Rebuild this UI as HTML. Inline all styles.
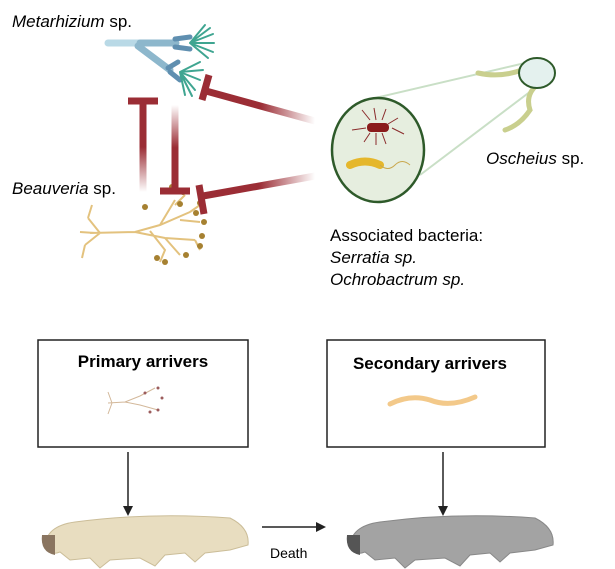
<!DOCTYPE html>
<html><head><meta charset="utf-8"><style>
body{margin:0;background:#fff;}
svg{display:block;font-family:"Liberation Sans",sans-serif;}
</style></head><body>
<svg width="615" height="569" viewBox="0 0 615 569" xmlns="http://www.w3.org/2000/svg">
<defs>
<linearGradient id="g1" x1="1" y1="0" x2="0" y2="0"><stop offset="0" stop-color="#9b2d35" stop-opacity="0"/><stop offset="0.5" stop-color="#9b2d35"/></linearGradient>
<linearGradient id="gv1" gradientUnits="userSpaceOnUse" x1="0" y1="192" x2="0" y2="102"><stop offset="0" stop-color="#9b2d35" stop-opacity="0"/><stop offset="0.5" stop-color="#9b2d35"/></linearGradient>
<linearGradient id="gv2" gradientUnits="userSpaceOnUse" x1="0" y1="105" x2="0" y2="190"><stop offset="0" stop-color="#9b2d35" stop-opacity="0"/><stop offset="0.5" stop-color="#9b2d35"/></linearGradient>
</defs>
<text x="12" y="27" font-size="17"><tspan font-style="italic">Metarhizium</tspan> sp.</text>
<text x="12" y="194" font-size="17"><tspan font-style="italic">Beauveria</tspan> sp.</text>
<text x="486" y="164" font-size="17"><tspan font-style="italic">Oscheius</tspan> sp.</text>
<text x="330" y="241" font-size="17">Associated bacteria:</text>
<text x="330" y="263" font-size="17" font-style="italic">Serratia sp.</text>
<text x="330" y="285" font-size="17" font-style="italic">Ochrobactrum sp.</text>
<g stroke-linecap="round">
<line x1="108" y1="43" x2="140" y2="43" stroke="#b9d9e6" stroke-width="7"/>
<line x1="140" y1="43" x2="176" y2="43" stroke="#8db7cc" stroke-width="7"/>
<line x1="138" y1="46" x2="170" y2="70" stroke="#8db7cc" stroke-width="7"/>
<path d="M175 39 L190 37 M175 47 L190 49 M168 68 L178 62 M170 72 L180 80" stroke="#5f8fb0" stroke-width="5"/>
<g stroke="#3fa591" stroke-width="2">
<path d="M190 43 L210 28 M190 43 L213 34 M190 43 L214 43 M190 43 L213 52 M190 43 L208 58 M190 43 L205 25 M180 72 L200 62 M180 72 L203 70 M180 72 L200 80 M180 72 L195 90 M180 72 L185 95 M180 72 L192 96"/>
</g>
</g>
<g stroke="#e3c27e" stroke-width="2" fill="none">
<path d="M90 233 L135 232 L160 225 L190 212 M135 232 L165 238 L195 240 M160 225 L175 200 M165 238 L180 255 M150 231 L165 250 L160 262 M100 233 L88 218 M100 233 L85 245 M95 233 L80 232 M88 218 L92 205 M85 245 L82 258 M175 205 L185 195 M190 212 L200 205 M180 220 L200 222 M195 240 L200 250"/>
</g>
<g fill="#a68131">
<circle cx="145" cy="207" r="3"/><circle cx="172" cy="187" r="3"/><circle cx="183" cy="192" r="3"/><circle cx="180" cy="204" r="3"/><circle cx="196" cy="213" r="3"/><circle cx="200" cy="203" r="3"/><circle cx="202" cy="236" r="3"/><circle cx="200" cy="246" r="3"/><circle cx="186" cy="255" r="3"/><circle cx="165" cy="262" r="3"/><circle cx="157" cy="258" r="3"/><circle cx="204" cy="222" r="3"/>
</g>
<rect x="139.5" y="102" width="7" height="90" fill="url(#gv1)"/>
<line x1="128" y1="101" x2="158" y2="101" stroke="#9b2d35" stroke-width="7"/>
<rect x="171.5" y="105" width="7" height="85" fill="url(#gv2)"/>
<line x1="160" y1="191" x2="190" y2="191" stroke="#9b2d35" stroke-width="7"/>
<line x1="206" y1="91" x2="315" y2="121" stroke="url(#g1)" stroke-width="7"/>
<line x1="209" y1="75" x2="202" y2="100" stroke="#9b2d35" stroke-width="7"/>
<line x1="203" y1="196" x2="315" y2="176" stroke="url(#g1)" stroke-width="7"/>
<line x1="199" y1="185" x2="204" y2="214" stroke="#9b2d35" stroke-width="7"/>
<line x1="375" y1="98" x2="525" y2="63" stroke="#c9dfc6" stroke-width="2"/>
<line x1="420" y1="175" x2="535" y2="88" stroke="#c9dfc6" stroke-width="2"/>
<path d="M478 73 Q500 78 522 70 M537 85 Q525 95 530 110 Q520 125 505 130" stroke="#c9cf8e" stroke-width="5" fill="none" stroke-linecap="round"/>
<ellipse cx="537" cy="73" rx="18" ry="15" fill="#e4f1ee" stroke="#2e5a2a" stroke-width="2"/>
<ellipse cx="378" cy="150" rx="46" ry="52" fill="#e6eedf" stroke="#2e5a2a" stroke-width="2.5"/>
<g stroke="#8a2b2b" stroke-width="1" fill="none">
<path d="M370 120 L362 110 M376 120 L374 108 M382 120 L386 109 M388 124 L398 118 M366 128 L352 130 M392 128 L404 134 M370 133 L364 142 M382 133 L386 144 M376 133 L376 145"/>
</g>
<rect x="367" y="123" width="22" height="9" rx="4" fill="#8a1c1c"/>
<path d="M350 165 Q365 158 380 165" stroke="#e5b72c" stroke-width="8" fill="none" stroke-linecap="round"/>
<path d="M380 165 Q388 172 395 165 T410 165" stroke="#c9a84e" stroke-width="1" fill="none"/>
<rect x="38" y="340" width="210" height="107" fill="#fff" stroke="#222" stroke-width="1.5"/>
<text x="143" y="367" font-size="17" font-weight="bold" text-anchor="middle">Primary arrivers</text>
<g stroke="#d3b89a" stroke-width="1" fill="none"><path d="M108 403 L125 402 L140 396 L155 388 M125 402 L140 405 L158 410 M112 403 L108 392 M112 403 L108 414"/></g>
<g fill="#9c5c5c"><circle cx="145" cy="393" r="1.5"/><circle cx="158" cy="388" r="1.5"/><circle cx="162" cy="398" r="1.5"/><circle cx="158" cy="410" r="1.5"/><circle cx="150" cy="412" r="1.5"/></g>
<rect x="327" y="340" width="218" height="107" fill="#fff" stroke="#222" stroke-width="1.5"/>
<text x="430" y="369" font-size="17" font-weight="bold" text-anchor="middle">Secondary arrivers</text>
<path d="M390 404 Q410 394 430 400 Q450 408 475 397" stroke="#f3c98a" stroke-width="5" fill="none" stroke-linecap="round"/>
<line x1="128" y1="452" x2="128" y2="508" stroke="#222" stroke-width="1.5"/>
<path d="M123 506 L128 516 L133 506 Z" fill="#222"/>
<line x1="443" y1="452" x2="443" y2="508" stroke="#222" stroke-width="1.5"/>
<path d="M438 506 L443 516 L448 506 Z" fill="#222"/>
<line x1="262" y1="527" x2="318" y2="527" stroke="#222" stroke-width="1.5"/>
<path d="M316 522 L326 527 L316 532 Z" fill="#222"/>
<text x="270" y="558" font-size="14">Death</text>
<path d="M45 548 Q45 526 75 522 Q150 512 230 518 Q250 528 248 545 L230 550 L205 553 L195 562 L185 553 L165 555 L155 566 L140 558 L110 560 L100 568 L90 558 L70 560 L60 552 Q50 556 45 548 Z" fill="#e8ddc0" stroke="#cbbd98" stroke-width="1"/>
<path d="M42 535 Q40 552 55 555 L55 535 Z" fill="#8a7560"/>
<path d="M350 548 Q350 526 380 522 Q455 512 535 518 Q555 528 553 545 L535 550 L510 553 L500 562 L490 553 L470 555 L460 566 L445 558 L415 560 L405 568 L395 558 L375 560 L365 552 Q355 556 350 548 Z" fill="#a3a3a3" stroke="#888" stroke-width="1"/>
<path d="M347 535 Q345 552 360 555 L360 535 Z" fill="#555"/>
</svg>
</body></html>
